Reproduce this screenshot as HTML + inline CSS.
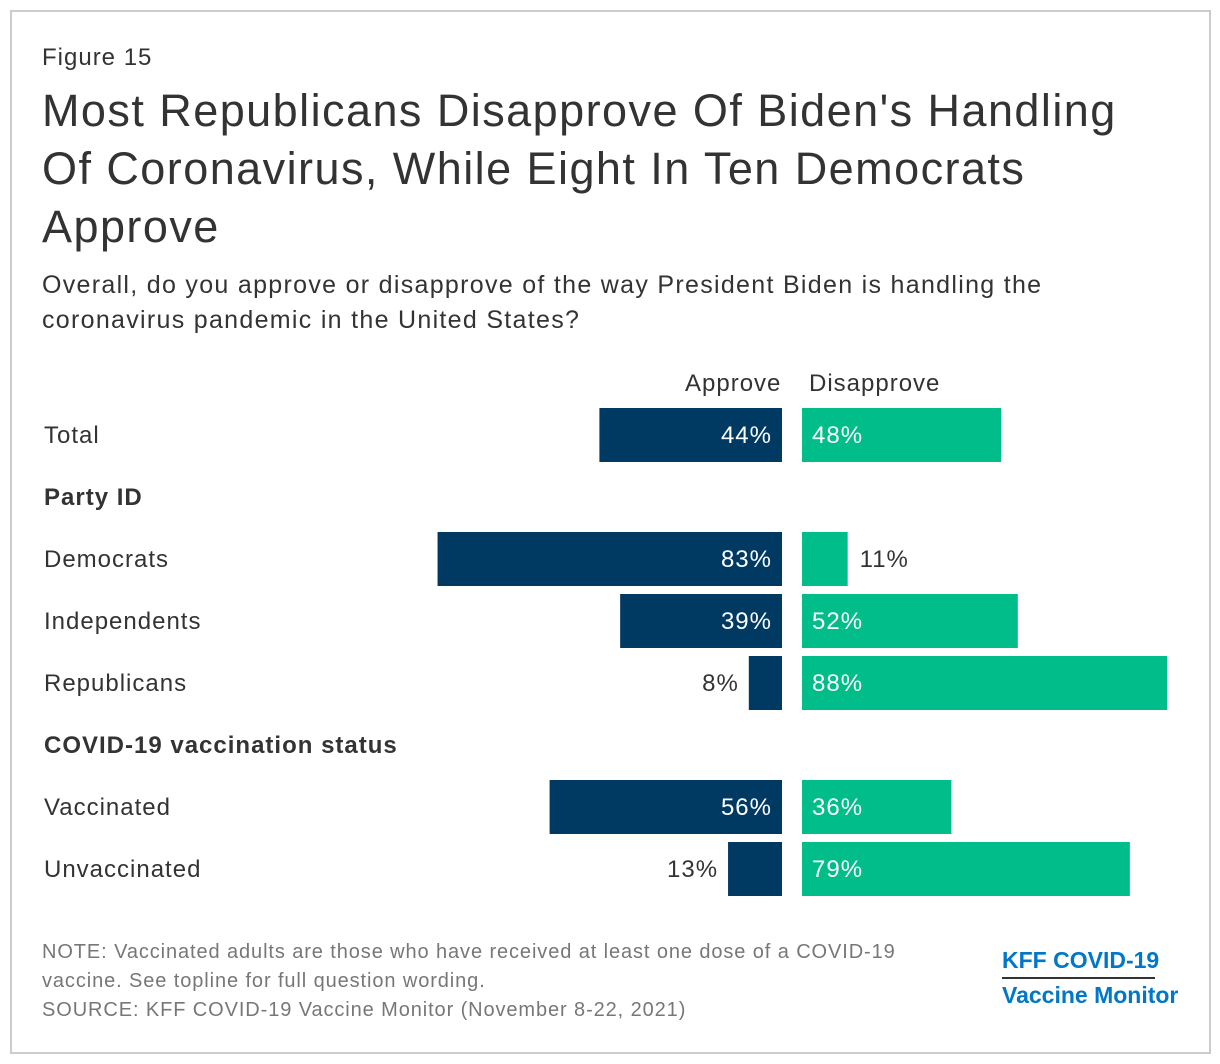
<!DOCTYPE html>
<html><head><meta charset="utf-8"><style>
body{margin:0;width:1220px;height:1064px;background:#fff;font-family:"Liberation Sans",Arial,sans-serif;position:relative;overflow:hidden}
.frame{position:absolute;left:10px;top:10px;width:1197px;height:1040px;border:2px solid #ccc}
.t{position:absolute;color:#333;white-space:nowrap;letter-spacing:1px}
</style></head><body>
<div class="frame"></div>
<div class="t" style="left:42px;top:44px;font-size:24px">Figure 15</div>
<div class="t" style="left:42px;top:82px;font-size:45px;line-height:58px;color:#333;letter-spacing:1.45px">Most Republicans Disapprove Of Biden's Handling<br>Of Coronavirus, While Eight In Ten Democrats<br>Approve</div>
<div class="t" style="left:42px;top:268px;font-size:25px;line-height:35px;letter-spacing:1.3px">Overall, do you approve or disapprove of the way President Biden is handling the<br>coronavirus pandemic in the United States?</div>
<div class="t" style="left:685px;top:370px;font-size:24px">Approve</div>
<div class="t" style="left:809px;top:370px;font-size:24px">Disapprove</div>
<div class="t" style="left:44px;top:484px;font-size:24px;font-weight:bold">Party ID</div>
<div class="t" style="left:44px;top:732px;font-size:24px;font-weight:bold">COVID-19 vaccination status</div>
<svg id="chart" width="1220" height="1064" style="position:absolute;left:0;top:0;letter-spacing:1px"></svg>
<div class="t" style="left:42px;top:938px;font-size:20px;line-height:29px;color:#777;letter-spacing:0.9px">NOTE: Vaccinated adults are those who have received at least one dose of a COVID-19<br>vaccine. See topline for full question wording.<br>SOURCE: KFF COVID-19 Vaccine Monitor (November 8-22, 2021)</div>
<div class="t" style="left:1002px;top:944px;font-size:23px;font-weight:bold;color:#0077c8;line-height:32px;letter-spacing:0"><div style="border-bottom:2px solid #333;padding-bottom:1px;width:153px">KFF COVID-19</div><div>Vaccine Monitor</div></div>
<script>
const categories=["Total","Democrats","Independents","Republicans","Vaccinated","Unvaccinated"];
const approve=[44,83,39,8,56,13];
const disapprove=[48,11,52,88,36,79];
const rowTops=[408,532,594,656,780,842];
const svg=document.getElementById('chart');
const NS='http://www.w3.org/2000/svg';
const scale=v=>v*4.15;
const zeroA=782,zeroD=802,barH=54;
function mk(tag,attrs){const e=document.createElementNS(NS,tag);for(const k in attrs)e.setAttribute(k,attrs[k]);svg.appendChild(e);return e;}
categories.forEach((c,i)=>{
  const y=rowTops[i],cy=y+barH/2+8;
  const lab=mk('text',{x:44,y:cy,'font-size':24,fill:'#333'});lab.textContent=c;
  
  
  const wa=scale(approve[i]);
  const ba=mk('rect',{x:zeroA-wa,y:y,width:wa,height:barH,fill:'#003a63'});
  
  
  const ta=mk('text',{'font-size':24});
  
  
  ta.textContent=approve[i]+'%';
  if(wa>70){ta.setAttribute('x',zeroA-10);ta.setAttribute('fill','#fff');}
  else{ta.setAttribute('x',zeroA-wa-10);ta.setAttribute('fill','#333');}
  ta.setAttribute('y',cy);ta.setAttribute('text-anchor','end');
  const wd=scale(disapprove[i]);
  const bd=mk('rect',{x:zeroD,y:y,width:wd,height:barH,fill:'#00bd89'});
  
  
  const td=mk('text',{'font-size':24,y:cy});
  
  
  td.textContent=disapprove[i]+'%';
  if(wd>70){td.setAttribute('x',zeroD+10);td.setAttribute('fill','#fff');}
  else{td.setAttribute('x',zeroD+wd+12);td.setAttribute('fill','#333');}
});
</script>
</body></html>
